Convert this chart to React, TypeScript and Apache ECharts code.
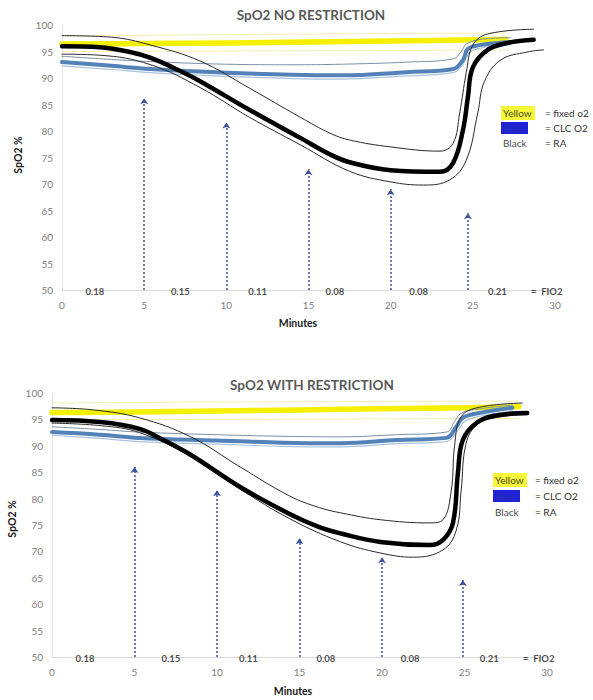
import { useEffect, useRef } from "react";
import * as echarts from "echarts";

// ---------- data (minutes, SpO2 %) ----------
// Top chart: NO RESTRICTION
const topYellow = [[0, 96.4], [5, 96.5], [10, 96.6], [15, 96.8], [20, 97], [25, 97.2], [27, 97.3]];
const topYellowHi = [[0, 97.9], [10, 98.2], [20, 98.4], [27, 98.5]];
const topYellowLo = [[0, 95], [10, 95.1], [20, 95.2], [27, 95.3]];
const topBlue = [[0, 93], [3, 92.3], [5.4, 91.7], [10, 91], [14, 90.6], [17, 90.5], [21, 91.1], [23.8, 91.7], [24.4, 93.4], [24.7, 95.5], [25.4, 96.2], [26.5, 96.6], [27.3, 96.8]];
const topBlueHi = [[0, 94.1], [3, 93.5], [5.4, 93.1], [10, 92.6], [14, 92.5], [17, 92.6], [21, 93], [23.8, 93.6], [24.3, 95], [24.6, 96.4], [25.5, 97.3], [27.3, 97.6]];
const topBlueLo = [[0, 92.3], [3, 91.6], [5.4, 91], [10, 90.3], [14, 89.9], [17, 89.8], [21, 90.4], [23.8, 91], [24.4, 92.6], [24.8, 94.8], [25.4, 95.6], [26.5, 96.1], [27.3, 96.3]];
const topBlack = [[0, 96], [2.3, 95.8], [4, 95], [5.4, 93.8], [7, 91.6], [8.4, 89.4], [11.4, 84], [14.5, 78.7], [16.3, 75.6], [17.5, 74.1], [20, 72.6], [23, 72.3], [23.8, 74], [24.4, 80.2], [24.7, 86.4], [25, 92], [25.9, 95.3], [27.1, 96.6], [28.7, 97.2]];
const topBlackHi = [[0, 98], [3, 97.7], [5.4, 96.2], [8.4, 93.2], [11.4, 88.1], [14.5, 82.6], [16.3, 79.6], [17.5, 78.3], [20, 77], [23, 76.2], [23.8, 77.7], [24.2, 83.4], [24.6, 91], [25, 96.2], [25.9, 98.3], [28.7, 99.2]];
const topBlackLo = [[0, 94.5], [2.3, 94.3], [5.4, 92.5], [8.4, 88.2], [11.4, 82.6], [14.5, 77.4], [17.5, 72.4], [20, 70.4], [22, 69.8], [23.6, 70.8], [24.6, 74.5], [25.3, 83.4], [25.7, 89.3], [26.7, 93.4], [28.3, 94.9], [29.3, 95.3]];
const topArrowX = [5, 10, 15, 20, 24.7];
const topArrowTop = [86.2, 81.6, 72.8, 69, 64.5];

// Bottom chart: WITH RESTRICTION
const botYellow = [[0, 96.3], [5, 96.4], [10, 96.6], [15, 96.8], [20, 97], [25, 97.2], [28.3, 97.4]];
const botYellowHi = [[0, 98.1], [10, 98.3], [20, 98.4], [28.3, 98.5]];
const botYellowLo = [[0, 94.9], [10, 95], [20, 95.1], [28.3, 95.2]];
const botBlue = [[0, 92.6], [2.9, 92.1], [5.3, 91.5], [10, 91], [14, 90.6], [17.5, 90.5], [20.9, 91.1], [23.9, 91.5], [24.5, 93.6], [24.9, 95.3], [25.9, 96.2], [27.9, 97.2]];
const botBlueHi = [[0, 93.6], [2.9, 93.1], [5.3, 92.6], [10, 92.1], [14, 91.8], [17.5, 91.7], [20.9, 92.1], [23.9, 92.6], [24.4, 94.6], [24.8, 96.2], [25.9, 97], [27.9, 97.7]];
const botBlueLo = [[0, 92], [2.9, 91.4], [5.3, 90.8], [10, 90.3], [14, 89.9], [17.5, 89.8], [20.9, 90.4], [23.9, 90.8], [24.6, 92.9], [25, 94.6], [25.9, 95.6], [27.9, 96.6]];
const botBlack = [[0, 94.9], [2.9, 94.5], [5.3, 93.2], [6.8, 91], [8.4, 88.3], [11.4, 82.2], [14.4, 77.1], [16.2, 74.6], [17.5, 73.4], [19.9, 71.8], [22.9, 71.2], [23.7, 72.2], [24.3, 75.4], [24.6, 84.8], [24.9, 91.1], [25.8, 94.5], [27, 95.8], [28.8, 96.2]];
const botBlackHi = [[0, 97.2], [2.5, 96.8], [5.3, 95.3], [8.4, 91.7], [11.4, 86], [14.4, 80.5], [16.2, 78.3], [17.5, 77.3], [19.9, 76], [22.9, 75.4], [23.7, 76], [24.2, 81.6], [24.4, 90], [24.8, 95.5], [25.9, 97.3], [28.5, 98.1]];
const botBlackLo = [[0, 94.3], [3, 93.8], [5.3, 92.5], [8.4, 88], [11.4, 81.8], [14.4, 76.2], [17.5, 71.8], [19.9, 69.7], [21.9, 68.9], [23.7, 70.3], [24.5, 74], [24.8, 81.6], [25.1, 90.5], [25.8, 94.1], [27, 95.4], [28.8, 95.9]];
const botArrowX = [5, 10, 15, 20, 24.9];
const botArrowTop = [86, 81.6, 72.5, 68.9, 64.6];

// FIO2 annotations along the x axis
const fio2Labels = ["0.18", "0.15", "0.11", "0.08", "0.08", "0.21", "=  FIO2"];
const fio2Minutes = [2, 7.2, 11.9, 16.6, 21.7, 26.5, 29.5];

const xTicks = { min: 0, max: 30, interval: 5 };
const yTicks = { min: 50, max: 100, interval: 5 };

const FONT = 'Lato, "Open Sans", "Liberation Sans", sans-serif';

function buildSeries(
  idx: number,
  d: {
    yellow: number[][]; yellowHi: number[][]; yellowLo: number[][];
    blue: number[][]; blueHi: number[][]; blueLo: number[][];
    black: number[][]; blackHi: number[][]; blackLo: number[][];
    arrowX: number[]; arrowTop: number[];
  }
) {
  const line = (data: number[][], color: string, width: number, z: number) => ({
    type: "line",
    xAxisIndex: idx,
    yAxisIndex: idx,
    data,
    smooth: 0.4,
    showSymbol: false,
    symbol: "none",
    lineStyle: { color, width, cap: "round", join: "round" },
    z,
    silent: true,
  });
  return [
    line(d.yellowHi, "#f2f0b0", 1, 2),
    line(d.yellowLo, "#f2f0b0", 1, 2),
    line(d.yellow, "#f4f000", 5.5, 3),
    line(d.blueHi, "#7f8fa5", 1, 4),
    line(d.blueLo, "#a9c4e0", 1.2, 4),
    line(d.blue, "#5282b8", 4, 5),
    line(d.blackHi, "#2a2a2a", 1, 6),
    line(d.blackLo, "#2a2a2a", 1, 6),
    line(d.black, "#000000", 4.5, 7),
    {
      type: "lines",
      coordinateSystem: "cartesian2d",
      xAxisIndex: idx,
      yAxisIndex: idx,
      data: d.arrowX.map((x, i) => ({ coords: [[x, 50], [x, d.arrowTop[i]]] })),
      lineStyle: { color: "#3b4f9e", width: 1.5, type: [2, 2], opacity: 1 },
      symbol: ["none", "arrow"],
      symbolSize: 6,
      z: 8,
      silent: true,
    },
    {
      type: "scatter",
      xAxisIndex: idx,
      yAxisIndex: idx,
      symbolSize: 0,
      data: fio2Labels.map((t, i) => ({ name: t, value: [fio2Minutes[i], 50] })),
      label: {
        show: true,
        position: "inside",
        formatter: (p: any) => p.name,
        color: "#1a1a1a",
        fontWeight: "bold",
        fontSize: 9.5,
        fontFamily: FONT,
        offset: [0, 1],
      },
      z: 9,
      silent: true,
    },
  ];
}

function axisPair(idx: number) {
  const x = {
    type: "value",
    gridIndex: idx,
    ...xTicks,
    axisLine: { show: true, lineStyle: { color: "#d9d9d9", width: 1 } },
    axisTick: { show: false },
    splitLine: { show: false },
    axisLabel: { color: "#7f7f7f", fontSize: 10, margin: 10, fontFamily: FONT },
  };
  const y = {
    type: "value",
    gridIndex: idx,
    ...yTicks,
    axisLine: { show: true, lineStyle: { color: "#e3e3e3", width: 1 } },
    axisTick: { show: false },
    splitLine: { show: false },
    axisLabel: { color: "#7f7f7f", fontSize: 10, margin: 9, fontFamily: FONT },
  };
  return { x, y };
}

function legendGraphics(x0: number, xEq: number, y0: number, step: number) {
  const txt = (x: number, y: number, text: string, fill: string) => ({
    type: "text",
    x,
    y,
    style: { text, fill, font: `10px ${FONT}`, textVerticalAlign: "middle" },
    z: 20,
  });
  return [
    { type: "rect", shape: { x: x0 - 2, y: y0 - 7, width: 34, height: 14 }, style: { fill: "#f7f73a" }, z: 19 },
    txt(x0, y0, "Yellow", "#4a4a20"),
    { type: "rect", shape: { x: x0 - 2, y: y0 + step - 6, width: 27, height: 12 }, style: { fill: "#1e23d8" }, z: 19 },
    txt(x0, y0 + step, "Blue", "#2a2fa8"),
    txt(x0, y0 + 2 * step, "Black", "#4a4a4a"),
    txt(xEq, y0, "= fixed o2", "#333333"),
    txt(xEq, y0 + step, "= CLC O2", "#333333"),
    txt(xEq, y0 + 2 * step, "= RA", "#333333"),
  ];
}

export default function App() {
  const ref = useRef<HTMLDivElement>(null);
  useEffect(() => {
    if (!ref.current) return;
    const chart = echarts.init(ref.current, null, { renderer: "svg" });
    const a0 = axisPair(0);
    const a1 = axisPair(1);
    const title = (x: number, y: number, text: string) => ({
      type: "text",
      x,
      y,
      style: { text, fill: "#595959", font: `bold 13.5px ${FONT}`, textAlign: "center", textVerticalAlign: "middle" },
      z: 20,
    });
    const axisName = (x: number, y: number, text: string, rot: number) => ({
      type: "text",
      x,
      y,
      rotation: rot,
      style: { text, fill: "#1a1a1a", font: `bold 10.5px ${FONT}`, textAlign: "center", textVerticalAlign: "middle" },
      z: 20,
    });
    chart.setOption({
      animation: false,
      backgroundColor: "#ffffff",
      grid: [
        { left: 62, top: 25, width: 493, height: 265 },
        { left: 52, top: 393, width: 495, height: 264 },
      ],
      xAxis: [a0.x, a1.x],
      yAxis: [a0.y, a1.y],
      series: [
        ...buildSeries(0, {
          yellow: topYellow, yellowHi: topYellowHi, yellowLo: topYellowLo,
          blue: topBlue, blueHi: topBlueHi, blueLo: topBlueLo,
          black: topBlack, blackHi: topBlackHi, blackLo: topBlackLo,
          arrowX: topArrowX, arrowTop: topArrowTop,
        }),
        ...buildSeries(1, {
          yellow: botYellow, yellowHi: botYellowHi, yellowLo: botYellowLo,
          blue: botBlue, blueHi: botBlueHi, blueLo: botBlueLo,
          black: botBlack, blackHi: botBlackHi, blackLo: botBlackLo,
          arrowX: botArrowX, arrowTop: botArrowTop,
        }),
      ],
      graphic: [
        title(311, 15, "SpO2 NO RESTRICTION"),
        title(312, 385, "SpO2 WITH RESTRICTION"),
        axisName(298, 323, "Minutes", 0),
        axisName(293, 691, "Minutes", 0),
        axisName(18, 155, "SpO2 %", Math.PI / 2),
        axisName(12, 519, "SpO2 %", Math.PI / 2),
        ...legendGraphics(503, 545, 113, 15),
        ...legendGraphics(495, 535, 480, 16),
      ],
    });
    return () => chart.dispose();
  }, []);
  return (
    <div
      ref={ref}
      style={{ position: "fixed", left: 0, top: 0, width: 593, height: 700, background: "#fff" }}
    />
  );
}
